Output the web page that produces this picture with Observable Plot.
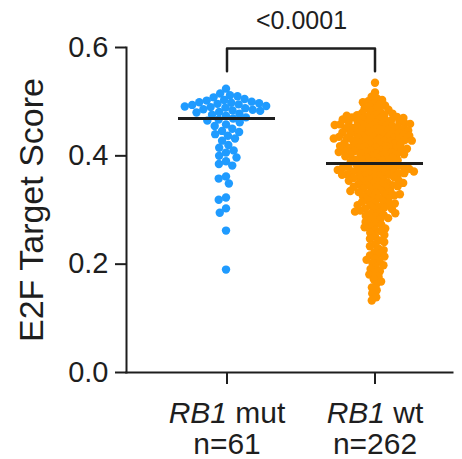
<!DOCTYPE html>
<html>
<head>
<meta charset="utf-8">
<script src="https://cdn.jsdelivr.net/npm/d3@7"></script>
<script src="https://cdn.jsdelivr.net/npm/@observablehq/plot@0.6"></script>
<style>
  html, body { margin: 0; padding: 0; background: #fff; }
  #chart svg { display: block; }
</style>
</head>
<body>
<div id="chart"></div>
<script>
// ---- data ----
const groups = ["RB1 mut", "RB1 wt"];
const groupCounts = ["n=61", "n=262"];
const groupColors = ["#1f9bff", "#ff9600"];

const mutScores = [
  0.524, 0.515, 0.512, 0.510, 0.508, 0.505, 0.503, 0.502, 0.500, 0.499,
  0.498, 0.497, 0.496, 0.495, 0.494, 0.492, 0.491, 0.490, 0.489, 0.488,
  0.486, 0.485, 0.484, 0.483, 0.481, 0.480, 0.478, 0.476, 0.474, 0.471,
  0.469,
  0.467, 0.465, 0.462, 0.458, 0.455, 0.450, 0.446, 0.444, 0.440, 0.437,
  0.432, 0.428, 0.420, 0.415, 0.410, 0.406, 0.400, 0.397, 0.390, 0.385,
  0.382, 0.362, 0.358, 0.349, 0.323, 0.319, 0.303, 0.295, 0.262, 0.190
];

const wtScores = [
  0.535, 0.517,
  0.509, 0.506, 0.503, 0.501,
  0.499, 0.497, 0.494, 0.493, 0.491, 0.488, 0.487, 0.485, 0.482, 0.481,
  0.479, 0.478, 0.476, 0.476, 0.475, 0.473, 0.472, 0.471, 0.469, 0.468,
  0.468, 0.466, 0.465, 0.464, 0.463, 0.463, 0.462, 0.461, 0.460, 0.470,
  0.474, 0.467,
  0.459, 0.458, 0.458, 0.457, 0.456, 0.455, 0.455, 0.454, 0.453, 0.452,
  0.451, 0.451, 0.450, 0.449, 0.448, 0.447, 0.447, 0.446, 0.445, 0.444,
  0.444, 0.443, 0.442, 0.441, 0.441, 0.440, 0.457,
  0.439, 0.438, 0.437, 0.437, 0.436, 0.435, 0.434, 0.433, 0.433, 0.432,
  0.431, 0.430, 0.429, 0.429, 0.428, 0.427, 0.426, 0.425, 0.424, 0.424,
  0.423, 0.422, 0.421, 0.420, 0.435, 0.428, 0.432,
  0.419, 0.418, 0.417, 0.416, 0.415, 0.415, 0.414, 0.413, 0.412, 0.411,
  0.410, 0.409, 0.409, 0.408, 0.407, 0.406, 0.405, 0.404, 0.403, 0.402,
  0.401, 0.400, 0.413, 0.407, 0.418, 0.403,
  0.399, 0.398, 0.397, 0.396, 0.395, 0.394, 0.393, 0.392, 0.391, 0.390,
  0.389, 0.388, 0.387,
  0.385, 0.384, 0.383, 0.383, 0.382, 0.381, 0.380, 0.380,
  0.379, 0.378, 0.377, 0.376, 0.376, 0.375, 0.374, 0.373, 0.372, 0.371,
  0.370, 0.369, 0.368, 0.367, 0.366, 0.365, 0.364, 0.363, 0.362, 0.361,
  0.360, 0.374, 0.368, 0.371, 0.365,
  0.359, 0.357, 0.356, 0.355, 0.353, 0.352, 0.351, 0.349, 0.348, 0.347,
  0.346, 0.345, 0.343, 0.342, 0.341, 0.354, 0.350, 0.344,
  0.339, 0.337, 0.336, 0.334, 0.333, 0.331, 0.330, 0.328, 0.327, 0.325,
  0.323, 0.322, 0.321, 0.335, 0.329,
  0.318, 0.316, 0.315, 0.313, 0.311, 0.309, 0.308, 0.306, 0.305, 0.303,
  0.302, 0.301, 0.312,
  0.299, 0.297, 0.295, 0.293, 0.291, 0.289, 0.287, 0.285, 0.283, 0.281,
  0.294,
  0.278, 0.275, 0.273, 0.270, 0.268, 0.266, 0.263, 0.261,
  0.258, 0.254, 0.251, 0.247, 0.244, 0.241,
  0.237, 0.233, 0.229, 0.226, 0.222,
  0.219, 0.216, 0.214, 0.211, 0.208, 0.205, 0.202,
  0.198, 0.194, 0.191, 0.187, 0.184, 0.181,
  0.177, 0.172, 0.168, 0.163,
  0.157, 0.152, 0.146,
  0.139, 0.133
];

const yTicks = [0, 0.2, 0.4, 0.6];
const yTitle = "E2F Target Score";
const pValueLabel = "<0.0001";
const bracketTop = 0.598;
const bracketFoot = 0.556;
const pLabelY = 0.649;

// ---- layout ----
const W = 462, H = 459;
const mL = 126, mR = 10, mT = 47, mB = 87;
const ink = "#1e1e1e";
const font = "'Liberation Sans', Arial, Helvetica, sans-serif";

const xOpts = {type: "band", domain: groups, paddingInner: 0.342, paddingOuter: 0.265, align: 0.646};
const sx = Plot.scale({x: {...xOpts, range: [mL, W - mR]}});
const frameMid = (mL + W - mR) / 2;
// Plot centres marks on a band scale by adding half the bandwidth itself,
// so the dodge offset only needs the band start relative to the frame middle.
const swarmShift = (g) => sx.apply(g) - frameMid;

const rows = [
  ...mutScores.map((v) => ({group: groups[0], score: v})),
  ...wtScores.map((v) => ({group: groups[1], score: v}))
];
const medians = groups.map((g) => ({
  group: g,
  median: d3.median(rows.filter((d) => d.group === g), (d) => d.score)
}));
const bracket = [
  {group: groups[0], v: bracketFoot},
  {group: groups[0], v: bracketTop},
  {group: groups[1], v: bracketTop},
  {group: groups[1], v: bracketFoot}
];

const swarm = (g, i, padding) =>
  Plot.dot(rows.filter((d) => d.group === g), Plot.dodgeX({
    anchor: "middle",
    padding,
    y: "score",
    r: 4.2,
    fill: groupColors[i],
    stroke: "none",
    dx: swarmShift(g)
  }));

const chart = Plot.plot({
  width: W,
  height: H,
  marginLeft: mL,
  marginRight: mR,
  marginTop: mT,
  marginBottom: mB,
  x: xOpts,
  y: {domain: [0, 0.6]},
  style: {fontFamily: font, color: ink, background: "#fff", overflow: "visible"},
  marks: [
    swarm(groups[0], 0, -0.8),
    swarm(groups[1], 1, -2.9),
    Plot.tickY(medians, {x: "group", y: "median", stroke: ink, strokeWidth: 3}),
    Plot.line(bracket, {x: "group", y: "v", stroke: ink, strokeWidth: 2.5}),
    Plot.text([pValueLabel], {
      x: () => groups[0], y: () => pLabelY, dx: sx.step / 2,
      text: (d) => d, fontSize: 25, lineAnchor: "middle", fill: ink
    }),
    Plot.frame({anchor: "left", stroke: ink, strokeWidth: 2}),
    Plot.frame({anchor: "bottom", stroke: ink, strokeWidth: 2}),
    Plot.axisY(yTicks, {
      tickSize: 11, tickPadding: 7, strokeWidth: 2, stroke: ink,
      tickFormat: d3.format(".1f"), fontSize: 29, label: null
    }),
    Plot.axisX({
      tickSize: 12, tickPadding: 16, strokeWidth: 2, stroke: ink,
      fontSize: 30, lineHeight: 1.05, label: null,
      tickFormat: (g) => g + "\n" + groupCounts[groups.indexOf(g)]
    }),
    Plot.text([yTitle], {
      frameAnchor: "left", rotate: -90, dx: -108,
      lineAnchor: "top", textAnchor: "middle",
      text: (d) => d, fontSize: 34, fill: ink
    })
  ]
});

// italicize the gene symbol inside category labels
const SVGNS = "http://www.w3.org/2000/svg";
for (const el of chart.querySelectorAll("text, tspan")) {
  if (el.children.length === 0 && groups.includes(el.textContent)) {
    const [gene, ...rest] = el.textContent.split(" ");
    el.textContent = "";
    const it = document.createElementNS(SVGNS, "tspan");
    it.setAttribute("font-style", "italic");
    it.textContent = gene;
    el.appendChild(it);
    el.appendChild(document.createTextNode(" " + rest.join(" ")));
  }
}

document.getElementById("chart").appendChild(chart);
</script>
</body>
</html>
